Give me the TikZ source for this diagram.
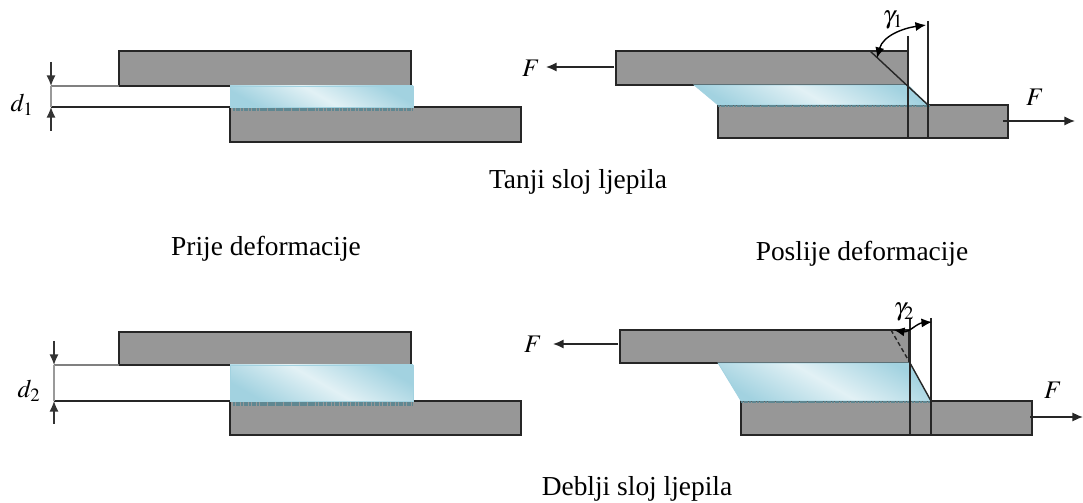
\documentclass[tikz,border=0pt]{standalone}
\usepackage{fontspec}
\usepackage{mathptmx}
\setmainfont{Liberation Serif}
\usetikzlibrary{arrows.meta}
\definecolor{plategray}{HTML}{979797}
\definecolor{gluedark}{HTML}{A2D2E0}
\definecolor{gluelight}{HTML}{E2F1F5}
\definecolor{gluebond}{HTML}{5F8791}
\tikzset{
	plate/.style={draw=black!85, fill=plategray, line width=1pt},
	glue/.style={draw=gluedark, line width=0.5pt, left color=gluedark, right color=gluedark, middle color=gluelight, shading angle=-30},
	bond/.style={gluebond, line width=2.8pt, dash pattern=on 1.5pt off 0.4pt},
	leader/.style={line width=1pt, black!85},
	dim/.style={->, line width=1pt, black!80},
	force/.style={->, line width=1pt, black!85},
	title/.style={font=\fontsize{19.5}{22}\selectfont},
	sym/.style={font=\fontsize{18}{21}\selectfont}
}
\begin{document}
\begin{tikzpicture}[x=0.025cm, y=-0.025cm, >={Latex[length=7.5pt,width=6.5pt]}]
	\useasboundingbox (0,0) rectangle (1083,503);
	% gore lijevo
	\coordinate (la1) at (51,62);
	\coordinate (la2) at (51,86);
	\coordinate (la3) at (51,131);
	\coordinate (la4) at (51,107);
	\draw [plate] (119,51) rectangle (411,86);
	\draw [plate] (230,107) rectangle (521,142);
	\shadedraw [glue] (230,86) rectangle (413,107.5);
	\draw [bond] (233,109.5) -- (413,109.5);
	\draw [leader, black!50] (la2) -- (119,86);
	\draw [leader] (la4) -- (230,107);
	\draw [leader, black!40] (la2) -- (la4);
	\draw [dim] (la1) -- (la2);
	\draw [dim] (la3) -- (la4);
	\node at (22,105) [sym] (d1) {$d_1$};
	% gore desno
	\coordinate (ra1) at (614,67);
	\coordinate (ra2) at (546,67);
	\coordinate (ra3) at (1003,121);
	\coordinate (ra4) at (1075,121);
	\coordinate (rs1) at (870,51);
	\coordinate (rs2) at (928,105);
	\draw [plate] (616,51) rectangle (908,85);
	\draw [plate] (718,105) rectangle (1008,138);
	\shadedraw [glue] (694,85) -- (908,85) -- (928,105) -- (718,105) -- cycle;
	\draw [bond, line width=1.5pt] (718,106) -- (930,106);
	\draw [leader] (908,36) -- (908,138);
	\draw [leader] (928,21) -- (928,138);
	\draw [leader] (rs1) -- (rs2);
	\draw [<->, line width=1pt] (877,58) to [out=75, in=188] (926,25);
	\draw [force] (ra1) -- (ra2);
	\draw [force] (ra3) -- (ra4);
	\node at (531,68) [sym] (f1) {$F$};
	\node at (1035,97) [sym] (f2) {$F$};
	\node at (893,20) [sym] (g1) {$\gamma_1$};
	\node at (578,182) [title] (t1) {Tanji sloj ljepila};
	% sredina
	\node at (266,249) [title] (t2) {Prije deformacije};
	\node at (862,254) [title] (t3) {Poslije deformacije};
	% dolje lijevo
	\coordinate (lb1) at (54,341);
	\coordinate (lb2) at (54,365);
	\coordinate (lb3) at (54,424);
	\coordinate (lb4) at (54,401);
	\draw [plate] (119,332) rectangle (411,365);
	\draw [plate] (230,401) rectangle (521,435);
	\shadedraw [glue] (230,365) rectangle (413,401.5);
	\draw [bond] (233,404) -- (413,404);
	\draw [leader, black!50] (lb2) -- (119,365);
	\draw [leader] (lb4) -- (230,401);
	\draw [leader, black!40] (lb2) -- (lb4);
	\draw [dim] (lb1) -- (lb2);
	\draw [dim] (lb3) -- (lb4);
	\node at (29,391) [sym] (d2) {$d_2$};
	% dolje desno
	\coordinate (rb1) at (618,344);
	\coordinate (rb2) at (553,344);
	\coordinate (rb3) at (1030,417);
	\coordinate (rb4) at (1083,417);
	\coordinate (rt1) at (891,330);
	\coordinate (rt2) at (931,401);
	\draw [plate] (620,330) rectangle (909,363);
	\draw [plate] (741,401) rectangle (1032,435);
	\shadedraw [glue] (718,363) -- (910,363) -- (931,401) -- (741,401) -- cycle;
	\draw [bond, line width=1.5pt] (741,402) -- (931,402);
	\draw [leader] (910,318) -- (910,435);
	\draw [leader] (931,318) -- (931,435);
	\draw [leader, densely dashed] (rt1) -- (910,363);
	\draw [leader] (910,363) -- (rt2);
	\draw [<->, line width=1pt] (894,330) to [out=-10, in=185] (932,322);
	\draw [force] (rb1) -- (rb2);
	\draw [force] (rb3) -- (rb4);
	\node at (533,344) [sym] (f3) {$F$};
	\node at (1053,390) [sym] (f4) {$F$};
	\node at (904,312) [sym] (g2) {$\gamma_2$};
	\node at (637,489) [title] (t4) {Deblji sloj ljepila};
\end{tikzpicture}
\end{document}
